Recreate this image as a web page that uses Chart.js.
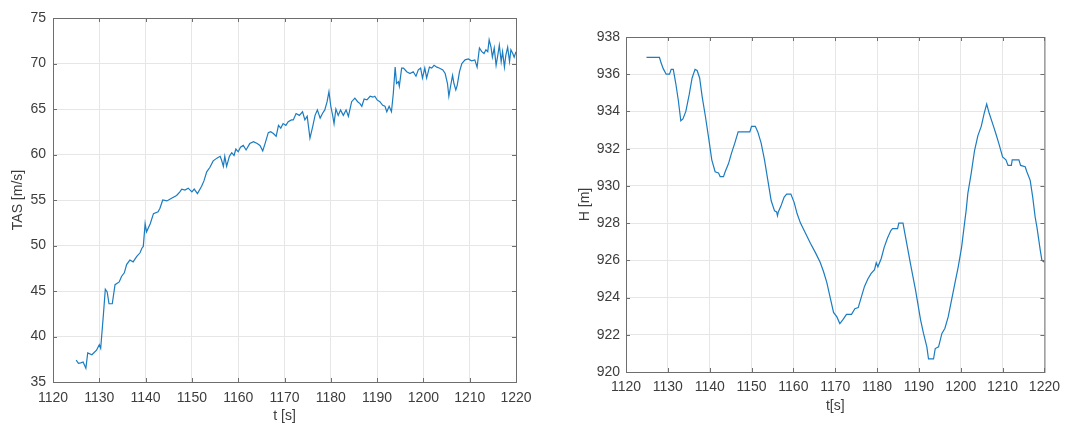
<!DOCTYPE html>
<html>
<head>
<meta charset="utf-8">
<script src="https://cdn.jsdelivr.net/npm/chart.js@4/dist/chart.umd.min.js"></script>
<style>
  body { margin: 0; background: #fff; width: 1067px; height: 425px; overflow: hidden; }
  .box { position: absolute; top: 0; height: 425px; }
  #leftBox { left: 0; width: 540px; }
  #rightBox { left: 540px; width: 527px; }
</style>
</head>
<body>
<div class="box" id="leftBox"><canvas id="tasChart" width="540" height="425"></canvas></div>
<div class="box" id="rightBox"><canvas id="hChart" width="527" height="425"></canvas></div>
<script>
// time axis ticks shared by both plots
const timeTicks = [1120, 1130, 1140, 1150, 1160, 1170, 1180, 1190, 1200, 1210, 1220];
const tasTicks = [35, 40, 45, 50, 55, 60, 65, 70, 75];
const hTicks = [920, 922, 924, 926, 928, 930, 932, 934, 936, 938];

// TAS [m/s] vs t [s]
const tasTime = [1125.0, 1125.5, 1126.0, 1126.5, 1127.1, 1127.5, 1128.4, 1129.4, 1130.0, 1130.3, 1130.9, 1131.3, 1131.7, 1132.1, 1132.8, 1133.4, 1134.3, 1134.8, 1135.4, 1135.9, 1136.6, 1137.3, 1138.1, 1138.8, 1139.2, 1139.5, 1139.9, 1140.2, 1141.0, 1141.7, 1142.7, 1143.1, 1143.7, 1144.6, 1145.6, 1146.7, 1147.4, 1147.8, 1148.5, 1149.2, 1150.0, 1150.5, 1151.2, 1152.1, 1152.6, 1153.2, 1153.9, 1154.6, 1155.4, 1156.1, 1156.4, 1156.8, 1157.1, 1157.5, 1158.1, 1158.6, 1159.1, 1159.5, 1160.0, 1160.5, 1161.1, 1161.7, 1162.5, 1163.3, 1164.1, 1164.7, 1165.3, 1165.8, 1166.5, 1167.0, 1167.6, 1168.2, 1168.7, 1169.2, 1169.7, 1170.3, 1170.8, 1171.5, 1171.9, 1172.5, 1173.2, 1173.9, 1174.4, 1174.9, 1175.5, 1176.1, 1176.6, 1177.1, 1177.7, 1178.2, 1178.7, 1179.2, 1179.6, 1180.0, 1180.4, 1180.7, 1181.1, 1181.6, 1182.1, 1182.7, 1183.3, 1183.8, 1184.5, 1185.2, 1185.8, 1186.3, 1186.7, 1187.2, 1187.8, 1188.5, 1189.1, 1189.5, 1190.0, 1190.6, 1191.2, 1191.7, 1192.1, 1192.6, 1193.1, 1193.5, 1193.9, 1194.2, 1194.6, 1194.8, 1195.3, 1195.7, 1196.4, 1197.1, 1197.8, 1198.4, 1198.9, 1199.4, 1199.8, 1200.3, 1200.7, 1201.3, 1201.8, 1202.3, 1202.9, 1203.4, 1204.2, 1204.7, 1205.2, 1205.5, 1205.9, 1206.3, 1206.6, 1207.0, 1207.3, 1207.8, 1208.3, 1209.0, 1209.7, 1210.4, 1211.1, 1211.6, 1212.1, 1212.6, 1213.1, 1213.5, 1213.9, 1214.2, 1214.6, 1214.9, 1215.3, 1215.7, 1216.0, 1216.4, 1216.8, 1217.1, 1217.5, 1217.8, 1218.2, 1218.6, 1218.9, 1219.3, 1219.6, 1220.0];
const tasValues = [37.4, 37.05, 37.1, 37.2, 36.5, 38.2, 38.0, 38.5, 39.1, 38.7, 42.5, 45.2, 44.9, 43.6, 43.6, 45.7, 46.0, 46.6, 47.0, 47.9, 48.4, 48.2, 48.8, 49.2, 49.7, 49.9, 52.4, 51.5, 52.4, 53.5, 53.7, 54.1, 55.0, 54.9, 55.2, 55.5, 55.9, 56.2, 56.1, 56.3, 55.9, 56.2, 55.7, 56.5, 57.1, 58.1, 58.6, 59.3, 59.6, 59.8, 59.4, 58.7, 59.8, 58.7, 59.8, 60.2, 59.9, 60.6, 60.3, 60.8, 61.0, 60.5, 61.2, 61.4, 61.2, 61.0, 60.4, 61.2, 62.4, 62.5, 62.3, 62.0, 63.2, 62.9, 63.4, 63.2, 63.6, 63.8, 63.8, 64.5, 64.3, 64.7, 63.8, 64.2, 61.8, 63.1, 64.3, 64.9, 64.0, 64.5, 64.9, 65.8, 66.9, 65.3, 64.3, 63.4, 65.0, 64.3, 64.9, 64.3, 64.9, 64.2, 65.8, 66.2, 65.8, 65.6, 65.3, 66.1, 66.0, 66.4, 66.3, 66.4, 66.0, 65.8, 65.4, 65.3, 64.7, 65.3, 64.7, 66.7, 69.6, 67.8, 68.0, 67.5, 69.5, 69.5, 69.1, 68.9, 69.1, 68.6, 69.3, 69.5, 68.4, 69.5, 68.4, 69.6, 69.5, 69.8, 69.6, 69.5, 69.3, 68.9, 67.8, 66.4, 67.6, 68.7, 67.8, 67.1, 67.6, 69.1, 70.0, 70.4, 70.5, 70.3, 70.4, 69.6, 71.7, 71.3, 71.1, 71.5, 71.3, 72.6, 71.8, 70.7, 71.7, 69.8, 70.7, 72.0, 70.2, 71.3, 69.6, 70.9, 71.8, 70.2, 71.5, 71.1, 70.7, 71.3];

// H [m] vs t [s]
const hTime = [1124.9, 1128.0, 1128.4, 1128.9, 1129.6, 1130.4, 1130.8, 1131.3, 1131.9, 1132.5, 1133.1, 1133.6, 1134.3, 1135.1, 1135.8, 1136.5, 1137.0, 1137.6, 1138.2, 1139.0, 1139.8, 1140.5, 1141.3, 1142.1, 1142.5, 1143.3, 1143.7, 1144.5, 1145.2, 1146.0, 1146.8, 1149.6, 1150.0, 1150.9, 1151.5, 1152.3, 1153.1, 1153.9, 1154.7, 1155.5, 1156.0, 1156.2, 1156.4, 1157.0, 1157.8, 1158.4, 1159.4, 1160.2, 1160.9, 1161.7, 1162.9, 1164.1, 1165.3, 1166.4, 1167.2, 1168.0, 1168.8, 1169.6, 1170.4, 1171.1, 1171.8, 1172.7, 1173.9, 1174.7, 1175.5, 1176.2, 1177.0, 1177.8, 1178.6, 1179.4, 1179.8, 1180.2, 1181.0, 1181.7, 1182.5, 1183.3, 1183.7, 1184.9, 1185.2, 1186.2, 1186.8, 1188.0, 1189.2, 1190.4, 1191.1, 1191.9, 1192.3, 1193.5, 1193.9, 1194.7, 1195.5, 1196.2, 1197.0, 1197.8, 1198.6, 1199.4, 1200.2, 1200.8, 1201.3, 1201.7, 1202.5, 1203.3, 1204.1, 1204.9, 1205.6, 1206.2, 1206.8, 1207.6, 1208.4, 1209.2, 1210.0, 1210.8, 1211.3, 1212.1, 1212.3, 1213.9, 1214.3, 1215.4, 1215.8, 1216.6, 1217.2, 1217.8, 1218.2, 1219.0, 1219.4, 1220.0];
const hValues = [936.9, 936.9, 936.6, 936.3, 936.0, 936.0, 936.26, 936.26, 935.5, 934.6, 933.5, 933.6, 934.0, 934.9, 935.8, 936.26, 936.2, 935.8, 934.8, 933.7, 932.5, 931.4, 930.76, 930.7, 930.5, 930.5, 930.76, 931.2, 931.75, 932.3, 932.9, 932.9, 933.2, 933.2, 932.9, 932.3, 931.4, 930.3, 929.2, 928.66, 928.6, 928.4, 928.6, 928.9, 929.4, 929.56, 929.56, 929.1, 928.5, 928.0, 927.45, 926.9, 926.4, 925.9, 925.4, 924.8, 924.0, 923.2, 922.96, 922.6, 922.8, 923.1, 923.1, 923.4, 923.46, 924.0, 924.6, 925.0, 925.3, 925.5, 925.87, 925.65, 926.1, 926.7, 927.2, 927.6, 927.7, 927.7, 928.0, 928.0, 927.26, 925.8, 924.4, 922.8, 922.07, 921.35, 920.7, 920.7, 921.26, 921.35, 922.07, 922.34, 922.96, 923.86, 924.76, 925.65, 926.7, 927.8, 928.7, 929.6, 930.67, 931.9, 932.7, 933.2, 933.9, 934.4, 933.9, 933.36, 932.8, 932.2, 931.56, 931.4, 931.1, 931.1, 931.4, 931.4, 931.1, 931.03, 930.76, 930.3, 929.4, 928.3, 927.8, 926.55, 926.0, 925.9];

const lineColor = "#1b7cc0";
const textColor = "#3d3d3d";
const gridColor = "#e6e6e6";
const axisColor = "#6e6e6e";
const fontFamily = "'Liberation Sans', Arial, sans-serif";

// matlab style box with small inward tick marks
const boxPlugin = {
  id: "box",
  afterDraw(chart) {
    const { ctx, chartArea: a, scales } = chart;
    ctx.save();
    ctx.strokeStyle = axisColor;
    ctx.lineWidth = 1;
    ctx.strokeRect(a.left + 0.5, a.top + 0.5, a.right - a.left, a.bottom - a.top);
    ctx.beginPath();
    scales.x.ticks.forEach((t) => {
      const px = Math.round(scales.x.getPixelForValue(t.value)) + 0.5;
      ctx.moveTo(px, a.bottom); ctx.lineTo(px, a.bottom - 4);
      ctx.moveTo(px, a.top); ctx.lineTo(px, a.top + 4);
    });
    scales.y.ticks.forEach((t) => {
      const py = Math.round(scales.y.getPixelForValue(t.value)) + 0.5;
      ctx.moveTo(a.left, py); ctx.lineTo(a.left + 4, py);
      ctx.moveTo(a.right, py); ctx.lineTo(a.right - 4, py);
    });
    ctx.stroke();
    ctx.restore();
  },
};

function makeChart(id, xs, ys, yTicks, xLabel, yLabel, geo) {
  const points = xs.map((x, i) => ({ x: x, y: ys[i] }));
  return new Chart(document.getElementById(id), {
    type: "line",
    data: {
      datasets: [{
        data: points,
        borderColor: lineColor,
        borderWidth: 1.2,
        pointRadius: 0,
        tension: 0,
        fill: false,
      }],
    },
    options: {
      responsive: false,
      animation: false,
      events: [],
      layout: { padding: { top: geo.top, right: geo.right, bottom: geo.bottom, left: 0 } },
      plugins: { legend: { display: false }, tooltip: { enabled: false } },
      scales: {
        x: {
          type: "linear",
          min: timeTicks[0],
          max: timeTicks[timeTicks.length - 1],
          afterBuildTicks: (s) => { s.ticks = timeTicks.map((v) => ({ value: v })); },
          afterFit: (s) => { s.height = geo.xH; },
          grid: { color: gridColor, drawTicks: false },
          border: { display: false },
          ticks: { color: textColor, padding: geo.xPad, maxRotation: 0, callback: (v) => String(v), font: { family: fontFamily, size: 14 } },
          title: { display: true, text: xLabel, color: textColor, padding: { top: 0, bottom: 0 }, font: { family: fontFamily, size: 14 } },
        },
        y: {
          type: "linear",
          min: yTicks[0],
          max: yTicks[yTicks.length - 1],
          afterBuildTicks: (s) => { s.ticks = yTicks.map((v) => ({ value: v })); },
          afterFit: (s) => { s.width = geo.yW; },
          grid: { color: gridColor, drawTicks: false },
          border: { display: false },
          ticks: { color: textColor, padding: geo.yPad, callback: (v) => String(v), font: { family: fontFamily, size: 14 } },
          title: { display: true, text: yLabel, color: textColor, padding: { top: geo.yTitlePad, bottom: 0 }, font: { family: fontFamily, size: 14 } },
        },
      },
    },
    plugins: [boxPlugin],
  });
}

makeChart("tasChart", tasTime, tasValues, tasTicks, "t [s]", "TAS [m/s]",
  { top: 18, right: 24, bottom: 0, xH: 43, yW: 53, xPad: 8, yPad: 7, yTitlePad: 10 });

makeChart("hChart", hTime, hValues, hTicks, "t[s]", "H [m]",
  { top: 37, right: 16, bottom: 10, xH: 43, yW: 86, xPad: 7, yPad: 6, yTitlePad: 37 });
</script>
</body>
</html>
